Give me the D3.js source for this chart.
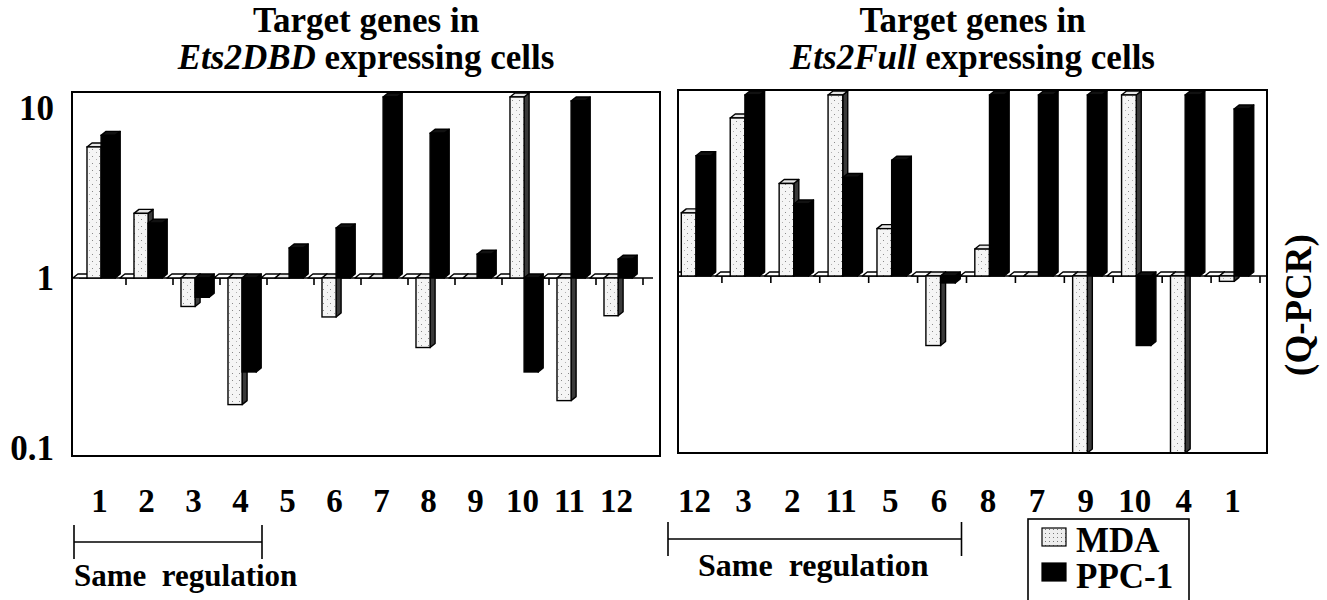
<!DOCTYPE html>
<html>
<head>
<meta charset="utf-8">
<script src="https://cdn.jsdelivr.net/npm/d3@7"></script>
<style>
  html, body { margin: 0; padding: 0; background: #fff; }
  svg { display: block; }
  text { font-family: "Liberation Serif", "Times New Roman", serif; font-weight: bold; fill: #000; }
</style>
</head>
<body>
<svg id="chart" width="1327" height="600"></svg>
<script>
// ---------------- data ----------------
const seriesNames = ["MDA", "PPC-1"];
const yTickValues = [0.1, 1, 10];
const yTickLabels = ["0.1", "1", "10"];

// Left panel: target genes in Ets2DBD expressing cells (fold change, Q-PCR)
const genesLeft = ["1", "2", "3", "4", "5", "6", "7", "8", "9", "10", "11", "12"];
const mdaLeft   = [5.9, 2.4, 0.68, 0.18, 1.0, 0.59, 1.0, 0.39, 1.0, 15, 0.19, 0.6];
const ppcLeft   = [6.9, 2.1, 0.77, 0.28, 1.5, 1.97, 15, 7.1, 1.38, 0.28, 11, 1.29];

// Right panel: target genes in Ets2Full expressing cells
const genesRight = ["12", "3", "2", "11", "5", "6", "8", "7", "9", "10", "4", "1"];
const mdaRight   = [2.35, 8.5, 3.5, 15, 1.9, 0.39, 1.44, 1.0, 0.05, 15, 0.05, 0.93];
const ppcRight   = [5.1, 15, 2.65, 3.8, 4.8, 0.91, 15, 15, 15, 0.39, 15, 9.6];

const titleLine1 = "Target genes in";
const titleLeftItalic = "Ets2DBD", titleRightItalic = "Ets2Full";
const titleRest = " expressing cells";
const sameRegLabel = "Same  regulation";
const sameRegLeft = ["1", "4"];
const sameRegRight = ["12", "6"];
const sideLabel = "(Q-PCR)";

// ---------------- drawing ----------------
const svg = d3.select("#chart");
const defs = svg.append("defs");
const pat = defs.append("pattern").attr("id", "stip").attr("width", 7).attr("height", 7)
  .attr("patternUnits", "userSpaceOnUse");
pat.append("rect").attr("width", 7).attr("height", 7).attr("fill", "#f5f5f5");
pat.append("rect").attr("x", 1).attr("y", 2).attr("width", 1).attr("height", 1).attr("fill", "#8a8a8a");
pat.append("rect").attr("x", 5).attr("y", 5).attr("width", 1).attr("height", 1).attr("fill", "#b0b0b0");
const pat2 = defs.append("pattern").attr("id", "stip2").attr("width", 4).attr("height", 4)
  .attr("patternUnits", "userSpaceOnUse");
pat2.append("rect").attr("width", 4).attr("height", 4).attr("fill", "#eee");
pat2.append("rect").attr("x", 1).attr("y", 1).attr("width", 1).attr("height", 1).attr("fill", "#777");

const DX = 5, DY = 4;

const panels = [
  { genes: genesLeft, mda: mdaLeft, ppc: ppcLeft, frame: [72, 660, 92, 456], band: [79, 643], yr: [448, 108],
    italic: titleLeftItalic, reg: sameRegLeft, regY: 542, regTextY: 586, regFont: 31, regDx: 0, yAxis: true },
  { genes: genesRight, mda: mdaRight, ppc: ppcRight, frame: [678, 1267, 90, 453], band: [673, 1260], yr: [446, 106],
    italic: titleRightItalic, reg: sameRegRight, regY: 539, regTextY: 576, regFont: 32, regDx: 30, yAxis: false }
];

panels.forEach((p, pi) => {
  const [fx0, fx1, fy0, fy1] = p.frame;
  const x = d3.scaleBand().domain(p.genes).range(p.band).paddingInner(0).paddingOuter(0);
  const bw = x.bandwidth();
  const xs = d3.scaleBand().domain(["base", ...seriesNames]).range([-0.13 * bw, 0.77 * bw]);
  const y = d3.scaleLog().domain([0.1, 10]).range(p.yr);
  const vMin = y.invert(fy1), vMax = y.invert(fy0 + DY + 1);
  const yb = y(1);

  const g = svg.append("g");
  const clipId = "clip" + pi;
  defs.append("clipPath").attr("id", clipId).append("rect")
    .attr("x", fx0).attr("y", fy0).attr("width", fx1 - fx0).attr("height", fy1 - fy0);
  const plot = g.append("g").attr("clip-path", `url(#${clipId})`);

  // baseline (value 1)
  const axisEnd = p.band[1] + 10;
  plot.append("line").attr("x1", p.band[0]).attr("x2", axisEnd).attr("y1", yb).attr("y2", yb)
    .attr("stroke", "#000").attr("stroke-width", 1.6);
  // ticks at category boundaries
  plot.selectAll(".tick").data(p.genes).join("line")
    .attr("x1", d => x(d) + bw).attr("x2", d => x(d) + bw)
    .attr("y1", yb).attr("y2", yb + 7).attr("stroke", "#000").attr("stroke-width", 1.6);

  const bars = [];
  p.genes.forEach((gene, i) => {
    bars.push({ gene, s: "base", v: 1 });
    bars.push({ gene, s: "MDA", v: p.mda[i] });
    bars.push({ gene, s: "PPC-1", v: p.ppc[i] });
  });

  const bar = plot.selectAll(".bar").data(bars).join("g");
  bar.each(function (d) {
    const sel = d3.select(this);
    const v = Math.max(vMin, Math.min(vMax, d.v));
    const xv = x(d.gene) + xs(d.s);
    const w = xs.bandwidth();
    const yv = y(v);
    const top = Math.min(yv, yb), bot = Math.max(yv, yb);
    const isM = d.s === "MDA", isB = d.s === "base";
    const front = isB ? "#fff" : isM ? "url(#stip)" : "#000";
    const topC = isB ? "#fff" : isM ? "#e6e6e6" : "#111";
    const sideC = isB ? "#fff" : isM ? "#3a3a3a" : "#000";
    const sw = 1.4;
    sel.append("polygon")
      .attr("points", [[xv + w, top], [xv + w + DX, top - DY], [xv + w + DX, bot - DY], [xv + w, bot]].join(" "))
      .attr("fill", sideC).attr("stroke", "#000").attr("stroke-width", sw).attr("stroke-linejoin", "round");
    sel.append("polygon")
      .attr("points", [[xv, top], [xv + DX, top - DY], [xv + w + DX, top - DY], [xv + w, top]].join(" "))
      .attr("fill", topC).attr("stroke", "#000").attr("stroke-width", sw).attr("stroke-linejoin", "round");
    if (bot - top > 0.5) {
      sel.append("rect").attr("x", xv).attr("y", top).attr("width", w).attr("height", bot - top)
        .attr("fill", front).attr("stroke", "#000").attr("stroke-width", sw);
    }
  });

  // frame
  g.append("rect").attr("x", fx0).attr("y", fy0).attr("width", fx1 - fx0).attr("height", fy1 - fy0)
    .attr("fill", "none").attr("stroke", "#000").attr("stroke-width", 2);

  // y-axis labels
  if (p.yAxis) {
    g.selectAll(".ylab").data(yTickValues).join("text")
      .attr("x", 54).attr("y", d => y(d)).attr("dy", "0.35em")
      .attr("text-anchor", "end").attr("font-size", 35)
      .text((d, i) => yTickLabels[i]);
  }

  // category labels
  g.selectAll(".xlab").data(p.genes).join("text")
    .attr("x", d => x(d) + bw / 2 - 3).attr("y", 512)
    .attr("text-anchor", "middle").attr("font-size", 33)
    .text(d => d);

  // two-line title
  const cx = (fx0 + fx1) / 2;
  const t = g.append("text").attr("text-anchor", "middle").attr("font-size", 35);
  t.append("tspan").attr("x", cx).attr("y", 32).text(titleLine1);
  t.append("tspan").attr("x", cx).attr("y", 69).attr("font-style", "italic").text(p.italic);
  t.append("tspan").text(titleRest);

  // same regulation bracket
  const bx0 = x(p.reg[0]) - 5, bx1 = x(p.reg[1]) + bw - 5;
  const br = g.append("g").attr("stroke", "#000").attr("stroke-width", 1.6);
  br.append("line").attr("x1", bx0).attr("x2", bx1).attr("y1", p.regY).attr("y2", p.regY);
  br.append("line").attr("x1", bx0).attr("x2", bx0).attr("y1", p.regY - 17).attr("y2", p.regY + 17);
  br.append("line").attr("x1", bx1).attr("x2", bx1).attr("y1", p.regY - 17).attr("y2", p.regY + 17);
  g.append("text").attr("x", bx0 + p.regDx).attr("y", p.regTextY)
    .attr("font-size", p.regFont).style("white-space", "pre").text(sameRegLabel);
});

// side label
svg.append("text").attr("transform", "translate(1298,305) rotate(-90)")
  .attr("text-anchor", "middle").attr("dy", "0.35em").attr("font-size", 37).text(sideLabel);

// legend
const leg = svg.append("g");
leg.append("rect").attr("x", 1028).attr("y", 519).attr("width", 161).attr("height", 90)
  .attr("fill", "#fff").attr("stroke", "#000").attr("stroke-width", 1.6);
leg.selectAll(".sw").data(seriesNames).join("rect")
  .attr("x", 1042).attr("y", (d, i) => 528 + i * 35).attr("width", 24).attr("height", 18)
  .attr("fill", d => d === "MDA" ? "url(#stip2)" : "#000")
  .attr("stroke", "#000").attr("stroke-width", 1.2);
const lt = leg.append("text").attr("font-size", 35);
lt.selectAll("tspan").data(seriesNames).join("tspan")
  .attr("x", 1076).attr("y", (d, i) => 552 + i * 36).text(d => d);
</script>
</body>
</html>
